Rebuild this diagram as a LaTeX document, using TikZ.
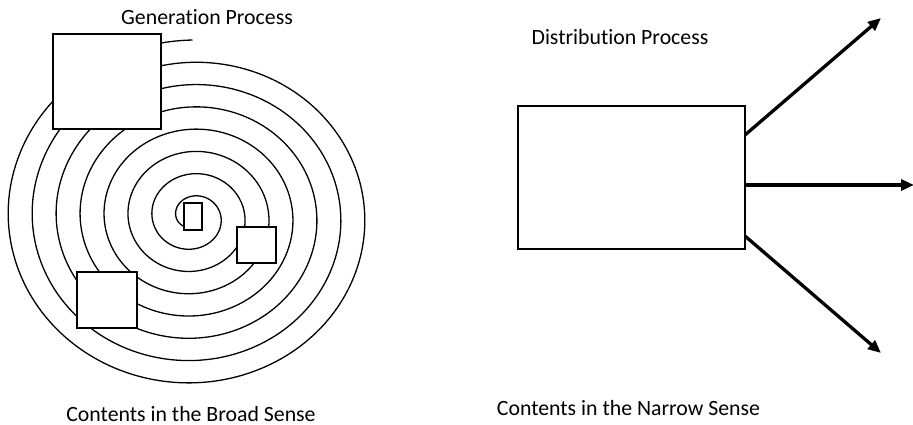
\documentclass[tikz,border=0pt]{standalone}
\usepackage{fontspec}
\setmainfont[Ligatures=NoCommon]{Carlito}
\usetikzlibrary{arrows.meta}
\tikzset{
  box/.style={draw=black, fill=white, line width=1.3pt, inner sep=0pt, outer sep=0pt},
  spiral/.style={line width=1.3pt},
  flow/.style={line width=3.3pt, -{Triangle[length=13pt,width=11pt]}},
  label/.style={font=\fontsize{21.8}{26}\selectfont, inner sep=0pt, anchor=base}
}
\begin{document}
\begin{tikzpicture}[x=1pt,y=-1pt]
\useasboundingbox[fill=white] (0,0) rectangle (913,425);
% spiral
\draw[spiral] plot[domain=90:2760, samples=1400, variable=\t]
  ({192.5 + 1.075*(177 - (\t-90)/360*22.3)*cos(\t)},
   {217 - (177 - (\t-90)/360*22.3)*sin(\t)});
% boxes over the spiral
\node[box, minimum width=108pt, minimum height=95pt] (big) at (107,81.5) {};
\node[box, minimum width=39pt, minimum height=36pt] (med) at (256.5,245) {};
\node[box, minimum width=60pt, minimum height=56pt] (low) at (107,300) {};
\node[box, minimum width=18pt, minimum height=27pt] (small) at (193,216.5) {};
% right side
\node[box, minimum width=227pt, minimum height=143pt] (R) at (631.5,177.5) {};
\coordinate (t1) at (881,18);
\coordinate (t2) at (914,185);
\coordinate (t3) at (881,353);
\draw[flow] ([yshift=-29pt]R.north east) -- (t1);
\draw[flow] ([yshift=-7.5pt]R.east) -- (t2);
\draw[flow] ([yshift=13pt]R.south east) -- (t3);
% texts
\node[label] (gen) at (207,25) {Generation Process};
\node[label] (dist) at (620,45) {Distribution Process};
\node[label] (broad) at (191,421) {Contents in the Broad Sense};
\node[label] (narrow) at (628.5,415) {Contents in the Narrow Sense};
\end{tikzpicture}
\end{document}
